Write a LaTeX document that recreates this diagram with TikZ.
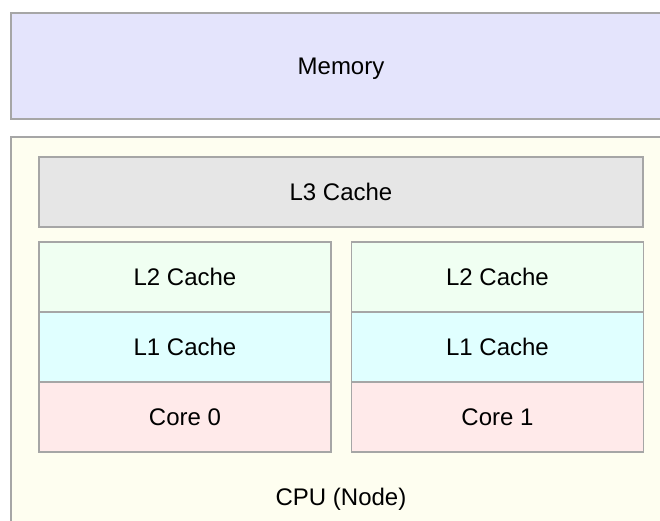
\documentclass[tikz,border=0pt]{standalone}
\usepackage{fontspec}
\setmainfont{Liberation Sans}
\usetikzlibrary{positioning}
\definecolor{boxline}{RGB}{166,166,166}
\definecolor{memfill}{RGB}{228,228,252}
\definecolor{cpufill}{RGB}{254,254,240}
\definecolor{lthreefill}{RGB}{230,230,230}
\definecolor{ltwofill}{RGB}{240,255,242}
\definecolor{lonefill}{RGB}{224,255,255}
\definecolor{corefill}{RGB}{255,234,234}

\begin{document}
\begin{tikzpicture}[x=1pt, y=-1pt,
	txt/.style={font=\fontsize{24}{29}\selectfont, text height=17pt, text depth=0pt},
	box/.style={txt, draw=boxline, line width=1.6pt, rectangle, inner sep=0pt, outer sep=0pt},
	cell/.style={box, minimum width=292pt, minimum height=70pt}]
	\useasboundingbox (0,0) rectangle (660,520);
%	memory on top, cpu package below
	\node[box, fill=memfill, minimum width=660pt, minimum height=106pt] (memory) at (341,66) {Memory};
	\node[box, fill=cpufill, minimum width=660pt, minimum height=404pt] (cpu) at (341,339) {};
	\node[txt, name=cpulabel] at (341,497) {CPU (Node)};
	\node[box, fill=lthreefill, minimum width=604pt, minimum height=70pt] (lthree) at (341,192) {L3 Cache};
%	core 0 stack
	\node[cell, fill=ltwofill] (ltwoa) at (185,277) {L2 Cache};
	\node[cell, fill=lonefill, below=0pt of ltwoa] (lonea) {L1 Cache};
	\node[cell, fill=corefill, below=0pt of lonea] (corea) {Core 0};
%	core 1 stack
	\node[cell, fill=ltwofill] (ltwob) at (497.5,277) {L2 Cache};
	\node[cell, fill=lonefill, below=0pt of ltwob] (loneb) {L1 Cache};
	\node[cell, fill=corefill, below=0pt of loneb] (coreb) {Core 1};
\end{tikzpicture}
\end{document}
